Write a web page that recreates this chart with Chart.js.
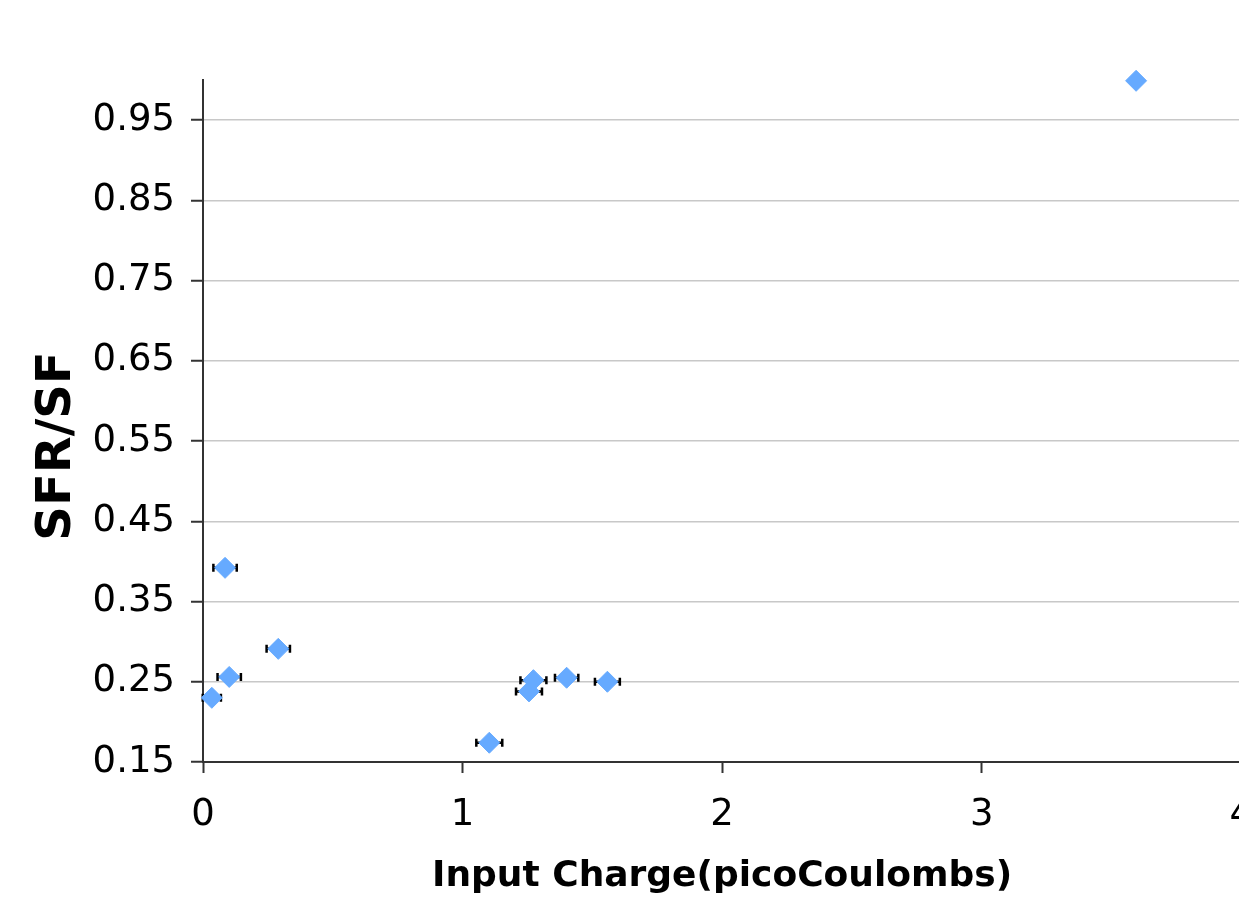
<!DOCTYPE html>
<html>
<head>
<meta charset="utf-8">
<script src="https://cdn.jsdelivr.net/npm/chart.js@4/dist/chart.umd.min.js"></script>
<style>
html, body { margin: 0; padding: 0; background: #fff; overflow: hidden; }
#wrap { position: relative; width: 1273px; height: 898px; }
</style>
</head>
<body>
<div id="wrap"><canvas id="graphe"></canvas></div>
<script>
// values
var charge    = [0.034, 0.085, 0.101, 0.290, 1.103, 1.256, 1.273, 1.401, 1.558, 3.595];
var ratio     = [0.230, 0.392, 0.256, 0.291, 0.174, 0.238, 0.252, 0.255, 0.250, 0.999];
var chargeErr = [0.035, 0.045, 0.045, 0.045, 0.050, 0.050, 0.050, 0.045, 0.048, 0];
var xTicks = [0, 1, 2, 3, 4];
var yTicks = [0.15, 0.25, 0.35, 0.45, 0.55, 0.65, 0.75, 0.85, 0.95];

var points = [];
for (var i = 0; i < charge.length; i++) {
    points.push({x: charge[i], y: ratio[i]});
}

var fontFamily = 'Verdana, "DejaVu Sans", sans-serif';

//horizontal error bars, drawn behind the markers
var errorBars = {
    id: 'errorBars',
    beforeDatasetsDraw: function(chart) {
        var ctx = chart.ctx;
        var xs = chart.scales.x, ys = chart.scales.y;
        ctx.save();
        ctx.strokeStyle = '#000';
        ctx.lineWidth = 2.5;
        for (var i = 0; i < charge.length; i++) {
            if (!chargeErr[i]) continue;
            var x0 = xs.getPixelForValue(charge[i] - chargeErr[i]);
            var x1 = xs.getPixelForValue(charge[i] + chargeErr[i]);
            var y = ys.getPixelForValue(ratio[i]);
            ctx.beginPath();
            ctx.moveTo(x0, y); ctx.lineTo(x1, y);
            ctx.moveTo(x0, y - 4); ctx.lineTo(x0, y + 4);
            ctx.moveTo(x1, y - 4); ctx.lineTo(x1, y + 4);
            ctx.stroke();
        }
        ctx.restore();
    }
};

var myChart = new Chart(document.getElementById('graphe').getContext('2d'), {
    type: 'scatter',
    data: {
        datasets: [{
            label: 'SFR/SF',
            data: points,
            backgroundColor: '#66aaff',
            borderColor: '#66aaff',
            borderWidth: 1,
            pointStyle: 'rectRot',
            pointRadius: 10.5,
            pointHoverRadius: 10.5,
            clip: false
        }]
    },
    options: {
        responsive: true,
        maintainAspectRatio: false,
        animation: false,
        events: [],
        layout: { padding: { top: 80, left: 29, right: 0, bottom: 0 } },
        plugins: {
            legend: { display: false },
            tooltip: { enabled: false }
        },
        scales: {
            x: {
                type: 'linear',
                min: 0,
                max: 4,
                afterBuildTicks: function(scale) {
                    scale.ticks = xTicks.map(function(v) { return {value: v}; });
                },
                //fixed height so the plot bottom sits where the original one does
                afterFit: function(scale) { scale.height = 136; },
                ticks: {
                    color: '#000',
                    padding: 20,
                    font: { family: fontFamily, size: 37 },
                    maxRotation: 0,
                    callback: function(v) { return String(v); }
                },
                grid: {
                    drawOnChartArea: false,
                    tickColor: '#333',
                    tickLength: 11,
                    tickWidth: 2
                },
                border: { color: '#333', width: 2 },
                title: {
                    display: true,
                    text: 'Input Charge(picoCoulombs)',
                    color: '#000',
                    font: { family: fontFamily, size: 36, weight: 'bold' },
                    padding: { top: 0, bottom: 0 }
                }
            },
            y: {
                min: 0.15,
                max: 1.0,
                afterBuildTicks: function(scale) {
                    scale.ticks = yTicks.map(function(v) { return {value: v}; });
                },
                afterFit: function(scale) { scale.width = 174; },
                ticks: {
                    color: '#000',
                    padding: 16,
                    font: { family: fontFamily, size: 37 },
                    callback: function(v) { return v.toFixed(2); }
                },
                grid: {
                    color: '#c8c8c8',
                    lineWidth: 1.5,
                    tickColor: '#333',
                    tickLength: 12,
                    tickWidth: 2
                },
                border: { color: '#333', width: 2 },
                title: {
                    display: true,
                    text: 'SFR/SF   ',
                    color: '#000',
                    font: { family: fontFamily, size: 48, weight: 'bold' },
                    padding: { top: 0, bottom: 0 }
                }
            }
        }
    },
    plugins: [errorBars]
});
</script>
</body>
</html>
